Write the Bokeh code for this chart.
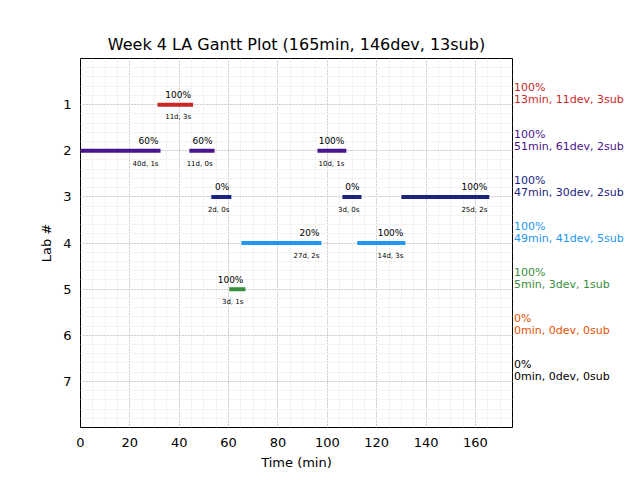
from bokeh.plotting import figure
from bokeh.models import ColumnDataSource, Range1d, FixedTicker
from bokeh.layouts import row
from bokeh.embed import file_html
from bokeh.resources import INLINE
from bokeh.core.properties import value

# ---- data ----
bar_lab = [1, 2, 2, 2, 3, 3, 3, 4, 4, 5]
bar_start = [32.0, 0.0, 44.9, 96.8, 53.8, 106.9, 130.8, 66.0, 112.9, 61.1]
bar_end = [44.8, 31.6, 53.5, 106.9, 60.3, 113.0, 164.8, 96.8, 130.8, 66.0]
bar_pct = ["100%", "60%", "60%", "100%", "0%", "0%", "100%", "20%", "100%", "100%"]
bar_info = ["11d, 3s", "40d, 1s", "11d, 0s", "10d, 1s", "2d, 0s", "3d, 0s",
            "25d, 2s", "27d, 2s", "14d, 3s", "3d, 1s"]

labs = [1, 2, 3, 4, 5, 6, 7]
lab_colors = ["#c62828", "#4a148c", "#1a237e", "#2196f3", "#388e3c", "#e65100", "#000000"]
lab_pct = ["100%", "100%", "100%", "100%", "100%", "0%", "0%"]
lab_summary = ["13min, 11dev, 3sub", "51min, 61dev, 2sub", "47min, 30dev, 2sub",
               "49min, 41dev, 5sub", "5min, 3dev, 1sub", "0min, 0dev, 0sub",
               "0min, 0dev, 0sub"]

x_ticks = [0, 20, 40, 60, 80, 100, 120, 140, 160]
title_text = "Week 4 LA Gantt Plot (165min, 146dev, 13sub)"

FONT = "DejaVu Sans"

yr = Range1d(8, 0)

p = figure(width=513, height=480, output_backend="svg", toolbar_location=None,
           x_range=Range1d(0, 175), y_range=yr,
           min_border_left=80, min_border_right=1, min_border_top=58,
           min_border_bottom=53, title=title_text)

p.title.align = "center"
p.title.text_font = FONT
p.title.text_font_size = "16px"
p.title.text_font_style = "normal"
p.title.text_color = "black"

p.outline_line_color = "black"
p.outline_line_width = 1
p.outline_line_alpha = 1
p.background_fill_color = "white"
p.border_fill_color = "white"

p.xaxis.ticker = FixedTicker(ticks=x_ticks, minor_ticks=[i * 5 for i in range(36)])
p.yaxis.ticker = FixedTicker(ticks=labs, minor_ticks=[i * 0.2 for i in range(41)])

for ax in (p.xaxis, p.yaxis):
    ax.axis_line_color = None
    ax.major_tick_line_color = None
    ax.minor_tick_line_color = None
    ax.major_tick_out = 0
    ax.major_tick_in = 0
    ax.minor_tick_out = 0
    ax.minor_tick_in = 0
    ax.major_label_text_font = FONT
    ax.major_label_text_font_size = "13px"
    ax.major_label_text_color = "black"
    ax.axis_label_text_font = FONT
    ax.axis_label_text_font_size = "13px"
    ax.axis_label_text_font_style = "normal"
    ax.axis_label_text_color = "black"

p.xaxis.axis_label = "Time (min)"
p.yaxis.axis_label = "Lab #"
p.xaxis.major_label_standoff = 10
p.xaxis.axis_label_standoff = 5
p.yaxis.major_label_standoff = 9
p.yaxis.axis_label_standoff = 6

for g in (p.xgrid, p.ygrid):
    g.grid_line_color = "#b0b0b0"
    g.grid_line_dash = "1 2"
    g.grid_line_width = 1
    g.minor_grid_line_color = "#f3f3f3"
    g.minor_grid_line_width = 1

color_of = {lab: c for lab, c in zip(labs, lab_colors)}
src = ColumnDataSource(dict(
    lab=bar_lab, x0=bar_start, x1=bar_end,
    pct=bar_pct, info=bar_info,
    color=[color_of[l] for l in bar_lab],
    y_top=[l - 0.1 for l in bar_lab],
    y_bot=[l + 0.19 for l in bar_lab],
))

p.segment(x0="x0", y0="lab", x1="x1", y1="lab", source=src, line_color="color",
          line_width=4, line_cap="square")

p.text(x="x1", y="y_top", text="pct", source=src, text_align="right",
       text_baseline="bottom", text_font=value(FONT), text_font_size="9px",
       text_color="black")
p.text(x="x1", y="y_bot", text="info", source=src, text_align="right",
       text_baseline="top", text_font=value(FONT), text_font_size="7px",
       text_color="black")

# right-hand summary panel sharing the lab axis
side = figure(width=127, height=480, output_backend="svg", toolbar_location=None,
              x_range=Range1d(0, 127), y_range=yr,
              x_axis_type=None, y_axis_type=None,
              min_border_left=0, min_border_right=0, min_border_top=58,
              min_border_bottom=53)
side.outline_line_color = None
side.grid.visible = False
side.background_fill_color = "white"
side.border_fill_color = "white"

side_src = ColumnDataSource(dict(
    x=[0.5] * len(labs),
    y_sum=[l + 0.04 for l in labs],
    y_pct=[l - 0.22 for l in labs],
    pct=lab_pct, summary=lab_summary, color=lab_colors,
))
side.text(x="x", y="y_sum", text="summary", source=side_src, text_align="left",
          text_baseline="bottom", text_font=value(FONT), text_font_size="11px",
          text_color="color")
side.text(x="x", y="y_pct", text="pct", source=side_src, text_align="left",
          text_baseline="bottom", text_font=value(FONT), text_font_size="11px",
          text_color="color")

layout = row(p, side, spacing=0)
open("out.html", "w").write(file_html(layout, INLINE))
